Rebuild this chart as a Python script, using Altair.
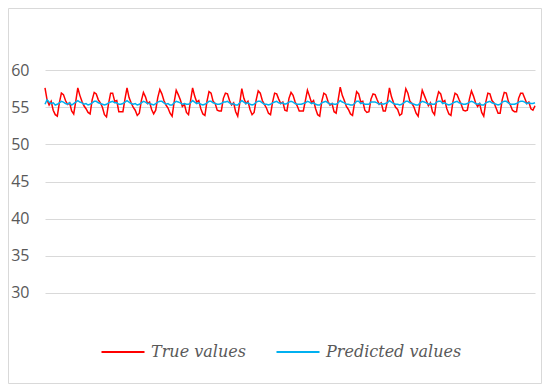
import altair as alt
import pandas as pd

true_values = [
    57.6, 56.0, 55.3, 55.8, 54.6, 54.0, 53.8, 55.6,
    56.9, 56.7, 55.9, 55.4, 55.6, 54.5, 54.1, 55.8,
    57.6, 56.6, 55.8, 55.2, 54.8, 54.3, 54.1, 56.0,
    57.0, 56.8, 56.0, 55.6, 55.0, 54.0, 53.7, 55.5,
    56.9, 56.9, 55.8, 55.9, 54.4, 54.4, 54.4, 56.1,
    57.6, 56.3, 55.6, 55.0, 54.6, 53.9, 54.2, 55.9,
    57.0, 56.4, 55.5, 55.7, 54.7, 54.1, 54.6, 56.3,
    57.4, 56.8, 55.9, 55.3, 54.9, 54.2, 53.8, 55.7,
    57.3, 56.7, 56.0, 55.1, 55.4, 54.3, 54.0, 55.9,
    57.6, 56.5, 55.7, 55.9, 54.8, 54.1, 53.9, 55.8,
    57.1, 56.9, 55.8, 55.5, 54.6, 54.5, 54.5, 56.2,
    56.9, 56.8, 55.9, 55.3, 55.6, 54.4, 53.8, 55.6,
    57.5, 56.2, 55.5, 55.8, 54.7, 54.0, 54.3, 56.0,
    57.2, 56.9, 55.9, 55.4, 54.9, 54.2, 54.0, 55.7,
    56.9, 56.8, 56.1, 55.5, 55.7, 54.6, 54.5, 56.2,
    57.0, 56.6, 55.7, 55.2, 54.5, 54.5, 54.5, 55.9,
    57.3, 56.5, 55.6, 55.9, 54.8, 54.0, 53.8, 55.8,
    56.9, 56.7, 55.8, 55.3, 55.5, 54.4, 54.2, 56.0,
    57.7, 56.6, 55.9, 55.1, 54.7, 54.1, 53.9, 55.6,
    57.1, 56.8, 55.7, 55.8, 54.6, 54.3, 54.4, 56.1,
    56.8, 56.7, 56.0, 55.4, 55.6, 54.5, 54.5, 55.8,
    57.6, 56.4, 55.6, 55.0, 54.7, 53.9, 54.1, 55.9,
    57.5, 56.9, 55.8, 55.5, 55.0, 54.2, 53.8, 55.7,
    57.3, 56.6, 55.9, 55.2, 55.6, 54.4, 54.0, 56.0,
    57.1, 56.8, 55.7, 55.9, 54.8, 54.1, 53.9, 55.8,
    56.9, 56.7, 56.0, 55.4, 54.6, 54.5, 54.6, 56.1,
    57.2, 56.5, 55.6, 55.1, 55.5, 54.3, 53.8, 55.7,
    56.9, 56.8, 55.9, 55.6, 54.9, 54.2, 54.2, 56.0,
    57.0, 56.9, 55.8, 55.3, 54.6, 54.4, 54.4, 56.2,
    56.9, 56.9, 56.2, 55.5, 55.7, 54.8, 54.6, 55.2,
]

predicted_values = [
    55.4, 56.0, 55.7, 55.5, 55.6, 55.3, 55.4, 55.6,
    55.8, 55.7, 55.5, 55.4, 55.6, 55.3, 55.5, 55.7,
    55.9, 55.7, 55.6, 55.4, 55.5, 55.3, 55.4, 55.6,
    55.8, 55.8, 55.6, 55.5, 55.4, 55.3, 55.4, 55.6,
    55.7, 55.8, 55.6, 55.6, 55.4, 55.4, 55.5, 55.7,
    55.9, 55.7, 55.5, 55.4, 55.5, 55.3, 55.4, 55.6,
    55.8, 55.7, 55.5, 55.5, 55.4, 55.3, 55.5, 55.7,
    55.8, 55.8, 55.6, 55.4, 55.5, 55.3, 55.3, 55.6,
    55.8, 55.7, 55.6, 55.4, 55.5, 55.4, 55.4, 55.6,
    55.9, 55.7, 55.5, 55.6, 55.4, 55.3, 55.4, 55.6,
    55.8, 55.8, 55.6, 55.5, 55.4, 55.4, 55.5, 55.7,
    55.7, 55.8, 55.6, 55.4, 55.5, 55.3, 55.3, 55.6,
    55.9, 55.7, 55.5, 55.6, 55.4, 55.3, 55.4, 55.7,
    55.8, 55.8, 55.6, 55.4, 55.4, 55.3, 55.4, 55.6,
    55.7, 55.8, 55.6, 55.5, 55.6, 55.4, 55.5, 55.7,
    55.8, 55.7, 55.5, 55.4, 55.4, 55.4, 55.5, 55.6,
    55.8, 55.7, 55.5, 55.6, 55.4, 55.3, 55.3, 55.6,
    55.7, 55.8, 55.6, 55.4, 55.5, 55.4, 55.4, 55.6,
    55.9, 55.7, 55.6, 55.4, 55.4, 55.3, 55.3, 55.5,
    55.8, 55.8, 55.5, 55.6, 55.4, 55.4, 55.4, 55.7,
    55.7, 55.7, 55.6, 55.4, 55.5, 55.4, 55.5, 55.6,
    55.9, 55.7, 55.5, 55.4, 55.4, 55.3, 55.4, 55.6,
    55.8, 55.8, 55.6, 55.5, 55.4, 55.3, 55.3, 55.6,
    55.8, 55.7, 55.6, 55.4, 55.5, 55.4, 55.4, 55.7,
    55.8, 55.8, 55.5, 55.6, 55.4, 55.3, 55.4, 55.6,
    55.7, 55.8, 55.6, 55.5, 55.4, 55.4, 55.5, 55.7,
    55.8, 55.7, 55.5, 55.4, 55.5, 55.3, 55.3, 55.6,
    55.7, 55.8, 55.6, 55.5, 55.4, 55.3, 55.4, 55.7,
    55.8, 55.8, 55.6, 55.4, 55.4, 55.4, 55.5, 55.7,
    55.8, 55.8, 55.7, 55.5, 55.6, 55.5, 55.5, 55.6,
]

series_names = ["True values", "Predicted values"]
series_colors = ["#ff0000", "#00b0f0"]
y_ticks = [30, 35, 40, 45, 50, 55, 60]

n = len(true_values)
df_true = pd.DataFrame({"idx": list(range(n)), "value": true_values, "series": series_names[0]})
df_pred = pd.DataFrame({"idx": list(range(n)), "value": predicted_values, "series": series_names[1]})

x_enc = alt.X("idx:Q", scale=alt.Scale(domain=[0, n - 1], nice=False, zero=False), axis=None)
y_enc = alt.Y(
    "value:Q",
    scale=alt.Scale(domain=[25, 65], nice=False, zero=False),
    axis=alt.Axis(
        values=y_ticks,
        title=None,
        domain=False,
        ticks=False,
        grid=True,
        gridColor="#d9d9d9",
        gridWidth=1,
        labelFont="Open Sans",
        labelFontSize=16,
        labelColor="#595959",
        labelPadding=16,
    ),
)
color_enc = alt.Color(
    "series:N",
    scale=alt.Scale(domain=series_names, range=series_colors),
    sort=series_names,
    legend=alt.Legend(
        title=None,
        orient="none",
        legendX=55,
        legendY=296,
        direction="horizontal",
        symbolType="stroke",
        symbolSize=1850,
        symbolStrokeWidth=2,
        labelFont="DejaVu Serif",
        labelFontStyle="italic",
        labelFontSize=16,
        labelColor="#595959",
        labelOffset=5,
        columnPadding=26,
    ),
)

one = alt.Data(values=[{}])
frame_style = dict(color="#d9d9d9", strokeWidth=1)
fx0, fx1, fy0, fy1 = -36.5, 496.5, -24.5, 350.5
frame_top = alt.Chart(one).mark_rule(**frame_style).encode(
    x=alt.value(fx0), x2=alt.value(fx1), y=alt.value(fy0)
)
frame_bottom = alt.Chart(one).mark_rule(**frame_style).encode(
    x=alt.value(fx0), x2=alt.value(fx1), y=alt.value(fy1)
)
frame_left = alt.Chart(one).mark_rule(**frame_style).encode(
    x=alt.value(fx0), y=alt.value(fy0), y2=alt.value(fy1)
)
frame_right = alt.Chart(one).mark_rule(**frame_style).encode(
    x=alt.value(fx1), y=alt.value(fy0), y2=alt.value(fy1)
)

line_true = alt.Chart(df_true).mark_line(strokeWidth=1.5).encode(x=x_enc, y=y_enc, color=color_enc)
line_pred = alt.Chart(df_pred).mark_line(strokeWidth=1.5).encode(x=x_enc, y=y_enc, color=color_enc)

chart = (
    alt.layer(frame_top, frame_bottom, frame_left, frame_right, line_true, line_pred)
    .properties(
        width=490,
        height=297,
        autosize=alt.AutoSizeParams(type="none"),
        padding={"left": 37, "top": 25, "right": 7, "bottom": 54},
        background="white",
    )
    .configure_view(stroke=None)
)

chart.save("out.html", embed_options={"renderer": "svg", "actions": False})
